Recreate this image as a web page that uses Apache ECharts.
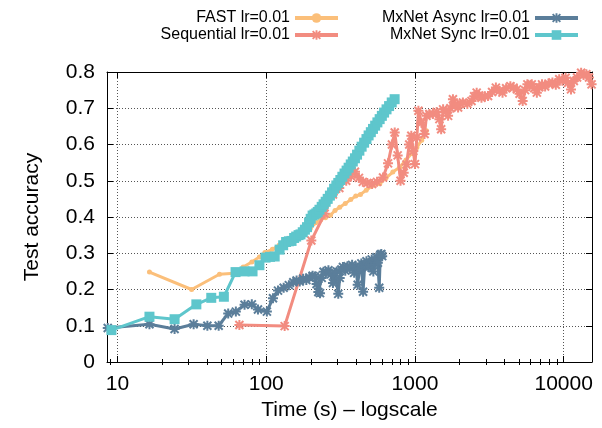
<!DOCTYPE html>
<html>
<head>
<meta charset="utf-8">
<script src="https://cdn.jsdelivr.net/npm/echarts@6/dist/echarts.min.js"></script>
<style>
  html, body { margin: 0; padding: 0; background: #fff; }
  #chart { width: 602px; height: 428px; }
</style>
</head>
<body>
<div id="chart"></div>
<script>
// Test accuracy against wall-clock time (seconds) for four training setups.

const fastTime = [16.4, 31.5, 48.5, 61, 70, 80, 90, 98, 110, 122, 135, 150, 165, 180, 198, 215, 232, 250, 270, 290, 312, 340, 370, 400, 430, 470, 520, 580, 640, 710, 790, 870, 950, 1030, 1110, 1195];
const fastAcc  = [0.248, 0.200, 0.242, 0.245, 0.262, 0.276, 0.290, 0.302, 0.311, 0.322, 0.330, 0.338, 0.343, 0.352, 0.368, 0.384, 0.392, 0.398, 0.405, 0.418, 0.427, 0.437, 0.448, 0.458, 0.462, 0.474, 0.487, 0.492, 0.508, 0.524, 0.537, 0.557, 0.575, 0.592, 0.612, 0.638];

const seqTime = [66, 133, 201, 247, 281, 310, 345, 372, 395, 420, 446, 478, 515, 556, 610, 659, 700, 731, 765, 800, 840, 877, 915, 945, 975, 1000, 1030, 1055, 1105, 1160, 1195, 1250, 1320, 1400, 1460, 1500, 1546, 1610, 1670, 1730, 1800, 1870, 1950, 2020, 2100, 2250, 2400, 2500, 2600, 2700, 2800, 2950, 3100, 3300, 3500, 3700, 3880, 4100, 4380, 4600, 4850, 5050, 5300, 5500, 5700, 5900, 6100, 6350, 6600, 6850, 7150, 7500, 7900, 8400, 8850, 9330, 9800, 10300, 10700, 11200, 11700, 12300, 13100, 13600, 14200, 14800, 15400];
const seqAcc  = [0.102, 0.099, 0.335, 0.409, 0.462, 0.480, 0.500, 0.512, 0.525, 0.508, 0.497, 0.494, 0.491, 0.497, 0.509, 0.548, 0.600, 0.633, 0.570, 0.500, 0.522, 0.545, 0.600, 0.624, 0.582, 0.546, 0.620, 0.693, 0.660, 0.629, 0.679, 0.684, 0.684, 0.690, 0.670, 0.642, 0.697, 0.690, 0.679, 0.700, 0.725, 0.710, 0.702, 0.712, 0.716, 0.712, 0.720, 0.733, 0.743, 0.735, 0.729, 0.733, 0.734, 0.745, 0.757, 0.748, 0.743, 0.755, 0.761, 0.757, 0.752, 0.740, 0.720, 0.750, 0.766, 0.762, 0.766, 0.755, 0.743, 0.758, 0.766, 0.760, 0.768, 0.771, 0.765, 0.780, 0.776, 0.784, 0.770, 0.752, 0.775, 0.785, 0.798, 0.792, 0.794, 0.785, 0.766];

const asyncTime = [8.6, 16.4, 24.2, 32.5, 40.2, 47.9, 55.5, 62.5, 71.5, 80, 88, 101, 111, 120, 131, 142, 152, 160, 168, 177, 186, 195, 205, 212, 218, 224, 230, 236, 243, 252, 262, 272, 281, 290, 298, 305, 312, 320, 328, 340, 352, 365, 378, 390, 400, 412, 424, 436, 448, 460, 472, 486, 500, 512, 525, 538, 550, 563, 575, 585, 594, 602];
const asyncAcc  = [0.094, 0.104, 0.091, 0.104, 0.100, 0.100, 0.134, 0.139, 0.158, 0.159, 0.145, 0.139, 0.176, 0.197, 0.205, 0.212, 0.220, 0.225, 0.222, 0.230, 0.226, 0.233, 0.238, 0.236, 0.215, 0.193, 0.190, 0.232, 0.249, 0.247, 0.253, 0.242, 0.218, 0.246, 0.250, 0.188, 0.232, 0.255, 0.262, 0.252, 0.264, 0.258, 0.268, 0.246, 0.263, 0.213, 0.258, 0.272, 0.194, 0.270, 0.278, 0.262, 0.264, 0.283, 0.250, 0.270, 0.289, 0.274, 0.205, 0.296, 0.298, 0.292];

const syncTime = [9.1, 16.4, 24.2, 33.9, 42.7, 51.9, 62.2, 71.5, 80.9, 90, 99, 106, 114, 123, 130, 136, 142, 148, 154, 159, 165, 170, 176, 182, 188, 194, 199, 205, 211, 217, 222, 228, 236, 243, 251, 259, 268, 277, 286, 296, 305, 315, 325, 336, 347, 358, 370, 382, 395, 408, 423, 438, 455, 472, 488, 505, 522, 540, 559, 579, 599, 620, 644, 670, 698, 730];
const syncAcc  = [0.088, 0.125, 0.118, 0.159, 0.177, 0.180, 0.248, 0.250, 0.250, 0.267, 0.288, 0.290, 0.291, 0.310, 0.322, 0.331, 0.333, 0.334, 0.342, 0.346, 0.350, 0.352, 0.358, 0.365, 0.372, 0.385, 0.395, 0.404, 0.407, 0.410, 0.414, 0.420, 0.428, 0.435, 0.442, 0.450, 0.459, 0.468, 0.478, 0.487, 0.494, 0.502, 0.511, 0.520, 0.528, 0.536, 0.545, 0.553, 0.562, 0.572, 0.583, 0.594, 0.605, 0.615, 0.625, 0.634, 0.643, 0.652, 0.661, 0.670, 0.679, 0.688, 0.697, 0.706, 0.716, 0.725];

const majorTimeTicks = [10, 100, 1000, 10000];
const minorTimeTicks = [9, 20, 30, 40, 50, 60, 70, 80, 90, 200, 300, 400, 500, 600, 700, 800, 900,
                        2000, 3000, 4000, 5000, 6000, 7000, 8000, 9000];

const FONT = '"Liberation Sans", Arial, Helvetica, sans-serif';
// Filled asterisk: a plus and a cross made of thin bars, all wound the same way.
const STAR = 'path://M4,0L6,0L6,10L4,10Z M0,4L10,4L10,6L0,6Z ' +
             'M1.7,0.3L9.7,8.3L8.3,9.7L0.3,1.7Z M8.3,0.3L9.7,1.7L1.7,9.7L0.3,8.3Z';

function pairs(xs, ys) { return xs.map((x, i) => [x, ys[i]]); }

const chart = echarts.init(document.getElementById('chart'), null, { renderer: 'canvas' });

const xBase = { type: 'log', logBase: 10, min: 8.5, max: 15500, gridIndex: 0 };
const frameLine = { show: true, onZero: false, lineStyle: { color: '#000', width: 1 } };
const legendBase = {
  orient: 'vertical', align: 'right', top: 10, padding: 0,
  itemWidth: 43, itemHeight: 12, itemGap: 1,
  lineStyle: { width: 4 },
  textStyle: { fontSize: 16, color: '#000', fontFamily: FONT }
};

chart.setOption({
  animation: false,
  backgroundColor: '#fff',
  textStyle: { fontFamily: FONT },
  grid: { left: 107, right: 10, top: 72, bottom: 66, containLabel: false },
  legend: [
    Object.assign({}, legendBase, { data: ['FAST lr=0.01', 'Sequential lr=0.01'], right: 262 }),
    Object.assign({}, legendBase, { data: ['MxNet Async lr=0.01', 'MxNet Sync lr=0.01'], right: 22 })
  ],
  xAxis: [
    Object.assign({}, xBase, {
      position: 'bottom',
      name: 'Time (s) \u2013 logscale', nameLocation: 'middle', nameGap: 38,
      nameTextStyle: { fontSize: 21, color: '#000', fontFamily: FONT },
      axisLine: frameLine,
      axisTick: { show: true, inside: true, length: 6, customValues: majorTimeTicks, lineStyle: { color: '#000' } },
      axisLabel: { show: true, margin: 12, fontSize: 21, color: '#000', fontFamily: FONT,
                   customValues: majorTimeTicks, formatter: v => String(Math.round(v)) },
      splitLine: { show: true, lineStyle: { color: '#555', type: [1, 2], width: 1 } }
    }),
    Object.assign({}, xBase, {
      position: 'bottom',
      axisLine: { show: false },
      axisTick: { show: true, inside: true, length: 3, customValues: minorTimeTicks, lineStyle: { color: '#000' } },
      axisLabel: { show: false },
      splitLine: { show: false }
    }),
    Object.assign({}, xBase, {
      position: 'top',
      axisLine: frameLine,
      axisTick: { show: true, inside: true, length: 6, customValues: majorTimeTicks, lineStyle: { color: '#000' } },
      axisLabel: { show: false },
      splitLine: { show: false }
    }),
    Object.assign({}, xBase, {
      position: 'top',
      axisLine: { show: false },
      axisTick: { show: true, inside: true, length: 3, customValues: minorTimeTicks, lineStyle: { color: '#000' } },
      axisLabel: { show: false },
      splitLine: { show: false }
    })
  ],
  yAxis: [
    {
      type: 'value', min: 0, max: 0.8, interval: 0.1, position: 'left',
      name: 'Test accuracy', nameLocation: 'middle', nameGap: 64, nameRotate: 90,
      nameTextStyle: { fontSize: 21, color: '#000', fontFamily: FONT },
      axisLine: frameLine,
      axisTick: { show: true, inside: true, length: 6, lineStyle: { color: '#000' } },
      axisLabel: { show: true, margin: 12, fontSize: 21, color: '#000', fontFamily: FONT,
                   formatter: v => String(Math.round(v * 10) / 10) },
      splitLine: { show: true, lineStyle: { color: '#555', type: [1, 2], width: 1 } }
    },
    {
      type: 'value', min: 0, max: 0.8, interval: 0.1, position: 'right',
      axisLine: frameLine,
      axisTick: { show: true, inside: true, length: 6, lineStyle: { color: '#000' } },
      axisLabel: { show: false },
      splitLine: { show: false }
    }
  ],
  series: [
    {
      name: 'FAST lr=0.01', type: 'line', xAxisIndex: 0, yAxisIndex: 0,
      data: pairs(fastTime, fastAcc),
      symbol: 'circle', symbolSize: 5,
      color: '#fbbf7a',
      lineStyle: { width: 3, color: '#fbbf7a' },
      itemStyle: { color: '#fbbf7a' },
      z: 2
    },
    {
      name: 'Sequential lr=0.01', type: 'line', xAxisIndex: 0, yAxisIndex: 0,
      data: pairs(seqTime, seqAcc),
      symbol: STAR, symbolSize: 10,
      color: '#f28c80',
      lineStyle: { width: 3, color: '#f28c80' },
      itemStyle: { color: '#f28c80' },
      z: 3
    },
    {
      name: 'MxNet Async lr=0.01', type: 'line', xAxisIndex: 0, yAxisIndex: 0,
      data: pairs(asyncTime, asyncAcc),
      symbol: STAR, symbolSize: 10,
      color: '#5b7e9a',
      lineStyle: { width: 3, color: '#5b7e9a' },
      itemStyle: { color: '#5b7e9a' },
      z: 4
    },
    {
      name: 'MxNet Sync lr=0.01', type: 'line', xAxisIndex: 0, yAxisIndex: 0,
      data: pairs(syncTime, syncAcc),
      symbol: 'rect', symbolSize: 10,
      color: '#5ec6cc',
      lineStyle: { width: 3, color: '#5ec6cc' },
      itemStyle: { color: '#5ec6cc' },
      z: 5
    }
  ]
});
</script>
</body>
</html>
